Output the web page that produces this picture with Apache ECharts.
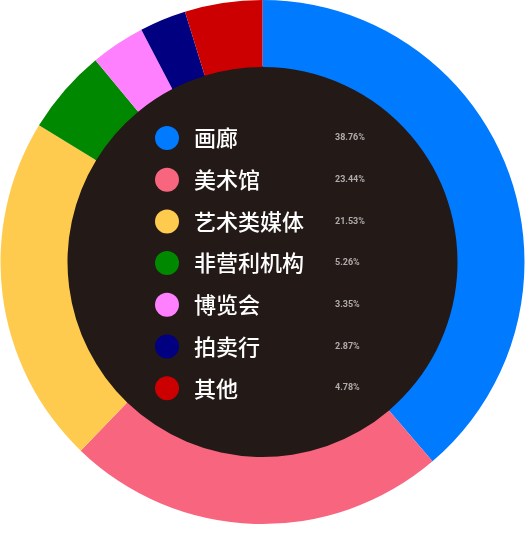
<!DOCTYPE html>
<html>
<head>
<meta charset="utf-8">
<script src="https://cdn.jsdelivr.net/npm/echarts@6/dist/echarts.min.js"></script>
<style>
  html, body { margin: 0; padding: 0; background: #fff; }
  #chart01 { width: 525px; height: 540px; }
</style>
</head>
<body>
<div id="chart01"></div>
<script>
// 数据
var names = ["画廊", "美术馆", "艺术类媒体", "非营利机构", "博览会", "拍卖行", "其他"];
var shares = [38.76, 23.44, 21.53, 5.26, 3.35, 2.87, 4.78];
var colors = ["#007aff", "#f7657f", "#ffcb4f", "#008800", "#ff80ff", "#000080", "#cc0000"];

var pieData = names.map(function (n, i) {
    return { name: n, value: shares[i], itemStyle: { color: colors[i] } };
});

var myChart01 = echarts.init(document.getElementById('chart01'));
var option = {
    backgroundColor: "#ffffff",
    animation: false,
    legend: {
        orient: "vertical",
        left: 155,
        top: 126,
        padding: 0,
        icon: "circle",
        itemWidth: 24,
        itemHeight: 24,
        itemGap: 17.7,
        data: names,
        formatter: function (name) {
            var i = names.indexOf(name);
            return "{name|" + name + "}{pct|" + shares[i].toFixed(2) + "%}";
        },
        textStyle: {
            rich: {
                name: {
                    color: "#ffffff",
                    fontSize: 22,
                    fontWeight: 500,
                    fontFamily: "Noto Sans CJK SC",
                    width: 141,
                    padding: [0, 0, 0, 10],
                    lineHeight: 24
                },
                pct: {
                    color: "#b0abaa",
                    fontSize: 9,
                    fontWeight: "bold",
                    fontFamily: "Roboto",
                    lineHeight: 24
                }
            }
        }
    },
    series: [
        {
            name: "bg",
            type: "pie",
            silent: true,
            center: [262.5, 262],
            radius: [0, 196],
            label: { show: false },
            labelLine: { show: false },
            data: [{ value: 1, name: "", itemStyle: { color: "#231917" } }]
        },
        {
            name: "",
            type: "pie",
            center: [262.5, 262],
            radius: [195, 262],
            startAngle: 90,
            clockwise: true,
            label: { show: false },
            labelLine: { show: false },
            itemStyle: { borderWidth: 0 },
            data: pieData
        }
    ]
};
// 为echarts对象加载数据
myChart01.setOption(option);
</script>
</body>
</html>
